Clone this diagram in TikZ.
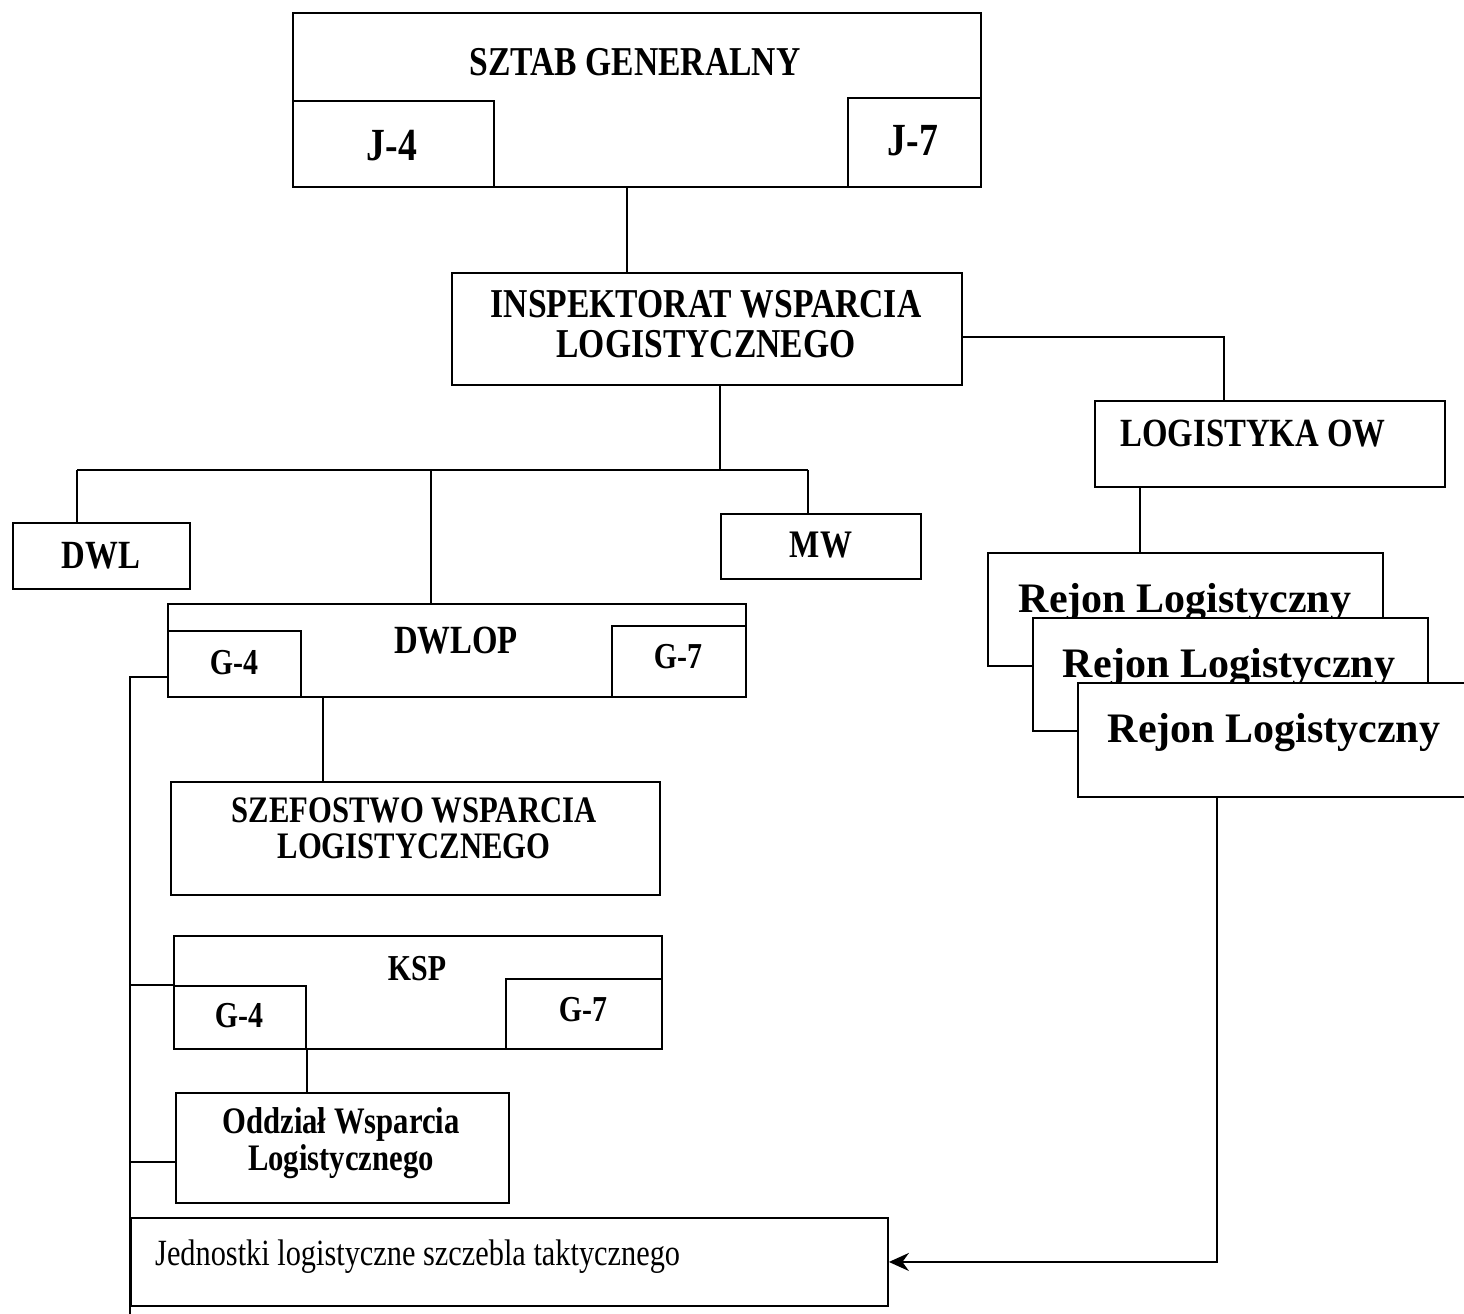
\documentclass[tikz,border=0pt]{standalone}
\usepackage{fontspec}
\setmainfont{Liberation Serif}
\newfontfamily\condf{Liberation Serif}[FakeStretch=0.82]
\usetikzlibrary{arrows.meta}
\begin{document}
\begin{tikzpicture}[x=1pt,y=-1pt,
  box/.style={draw, line width=1.9pt, anchor=north west, inner sep=0pt, fill=white},
  hd/.style={font=\condf\bfseries\fontsize{#1}{#1}\selectfont, inner sep=0pt, anchor=base},
  hdm/.style={font=\condf\bfseries\fontsize{#1}{#1}\selectfont, inner sep=0pt, align=center},
  rl/.style={font=\bfseries\fontsize{42}{42}\selectfont, inner sep=0pt, anchor=base},
  wire/.style={line width=1.9pt}]
\useasboundingbox (0,0) rectangle (1464,1314);

% SZTAB GENERALNY
\node[box, minimum width=688pt, minimum height=174pt] (sg) at (292,12) {};
\node[box, minimum width=201pt, minimum height=86pt] (j4) at (292,100) {};
\node[box, minimum width=133pt, minimum height=89pt] (j7) at (847,97) {};
\node[hd=41] (sgt) at (635,75) {SZTAB GENERALNY};
\node[hd=46] (j4t) at (392,160) {J-4};
\node[hd=46] (j7t) at (913,155) {J-7};

% INSPEKTORAT
\node[box, minimum width=510pt, minimum height=112pt] (iwl) at (451,272) {};
\node[hdm=41] (iwlt) at (706,324) {INSPEKTORAT WSPARCIA\\[-1pt]LOGISTYCZNEGO};

% LOGISTYKA OW
\node[box, minimum width=350pt, minimum height=86pt] (low) at (1094,400) {};
\node[hd=40] (lowt) at (1253,446) {LOGISTYKA OW};

% Rejony
\node[box, minimum width=395pt, minimum height=113pt] (r1) at (987,552) {};
\node[rl] (r1t) at (1185,612) {Rejon Logistyczny};
\node[box, minimum width=395pt, minimum height=113pt] (r2) at (1032,617) {};
\node[rl] (r2t) at (1229,677) {Rejon Logistyczny};
\node[box, minimum width=395pt, minimum height=114pt] (r3) at (1077,682) {};
\node[rl] (r3t) at (1274,742) {Rejon Logistyczny};

% DWL, MW
\node[box, minimum width=177pt, minimum height=66pt] (dwl) at (12,522) {};
\node[hd=40] (dwlt) at (101,568) {DWL};
\node[box, minimum width=200pt, minimum height=65pt] (mw) at (720,513) {};
\node[hd=39] (mwt) at (821,557) {MW};

% DWLOP
\node[box, minimum width=578pt, minimum height=93pt] (dwlop) at (167,603) {};
\node[box, minimum width=133pt, minimum height=66pt] (dg4) at (167,630) {};
\node[box, minimum width=134pt, minimum height=71pt] (dg7) at (611,625) {};
\node[hd=40] (dwlopt) at (456,653) {DWLOP};
\node[hd=36.5] (dg4t) at (234,674) {G-4};
\node[hd=36.5] (dg7t) at (678,668) {G-7};

% SZEFOSTWO
\node[box, minimum width=489pt, minimum height=113pt] (szef) at (170,781) {};
\node[hdm=37.4] (szeft) at (414,828) {SZEFOSTWO WSPARCIA\\[-1pt]LOGISTYCZNEGO};

% KSP
\node[box, minimum width=488pt, minimum height=113pt] (ksp) at (173,935) {};
\node[box, minimum width=132pt, minimum height=63pt] (kg4) at (173,985) {};
\node[box, minimum width=156pt, minimum height=70pt] (kg7) at (505,978) {};
\node[hd=36.5] (kspt) at (417,980) {KSP};
\node[hd=36.5] (kg4t) at (239,1027) {G-4};
\node[hd=36.5] (kg7t) at (583,1021) {G-7};

% Oddzial
\node[box, minimum width=333pt, minimum height=110pt] (odz) at (175,1092) {};
\node[hdm=37.4] (odzt) at (341,1143) {Oddział Wsparcia\\[-1pt]Logistycznego};

% Jednostki
\node[box, minimum width=757pt, minimum height=88pt] (jed) at (130,1217) {};
\node[font=\condf\fontsize{37}{37}\selectfont, inner sep=0pt, anchor=base west] (jedt) at (155,1265) {Jednostki logistyczne szczebla taktycznego};

% connectors
\draw[wire] (sg.south -| 627,0) -- (iwl.north -| 627,0);
\draw[wire] (iwl.east |- 0,337) -| (low.north -| 1224,0);
\draw[wire] (low.south -| 1140,0) -- (r1.north -| 1140,0);

\coordinate (bm) at (720,470);
\coordinate (bl) at (77,470);
\coordinate (bc) at (431,470);
\coordinate (br) at (808,470);
\draw[wire] (iwl.south -| bm) -- (bm);
\draw[wire] (bl) -- (br);
\draw[wire] (bl) -- (dwl.north -| bl);
\draw[wire] (bc) -- (dwlop.north -| bc);
\draw[wire] (br) -- (mw.north -| br);

\draw[wire] (dwlop.south -| 323,0) -- (szef.north -| 323,0);
\draw[wire] (kg4.south east) -- (odz.north -| kg4.south east);

\coordinate (L0) at (130,677);
\coordinate (Lend) at (130,1314);
\draw[wire] (dg4.west |- L0) -- (L0) -- (Lend);
\draw[wire] (kg4.north west) -- (kg4.north west -| L0);
\draw[wire] (odz.west |- 0,1162) -- (L0 |- 0,1162);

\draw[wire, -{Stealth[length=20pt, width=18pt, fill=black]}] (r3.south -| 1217,0) |- (jed.east);
\end{tikzpicture}
\end{document}
